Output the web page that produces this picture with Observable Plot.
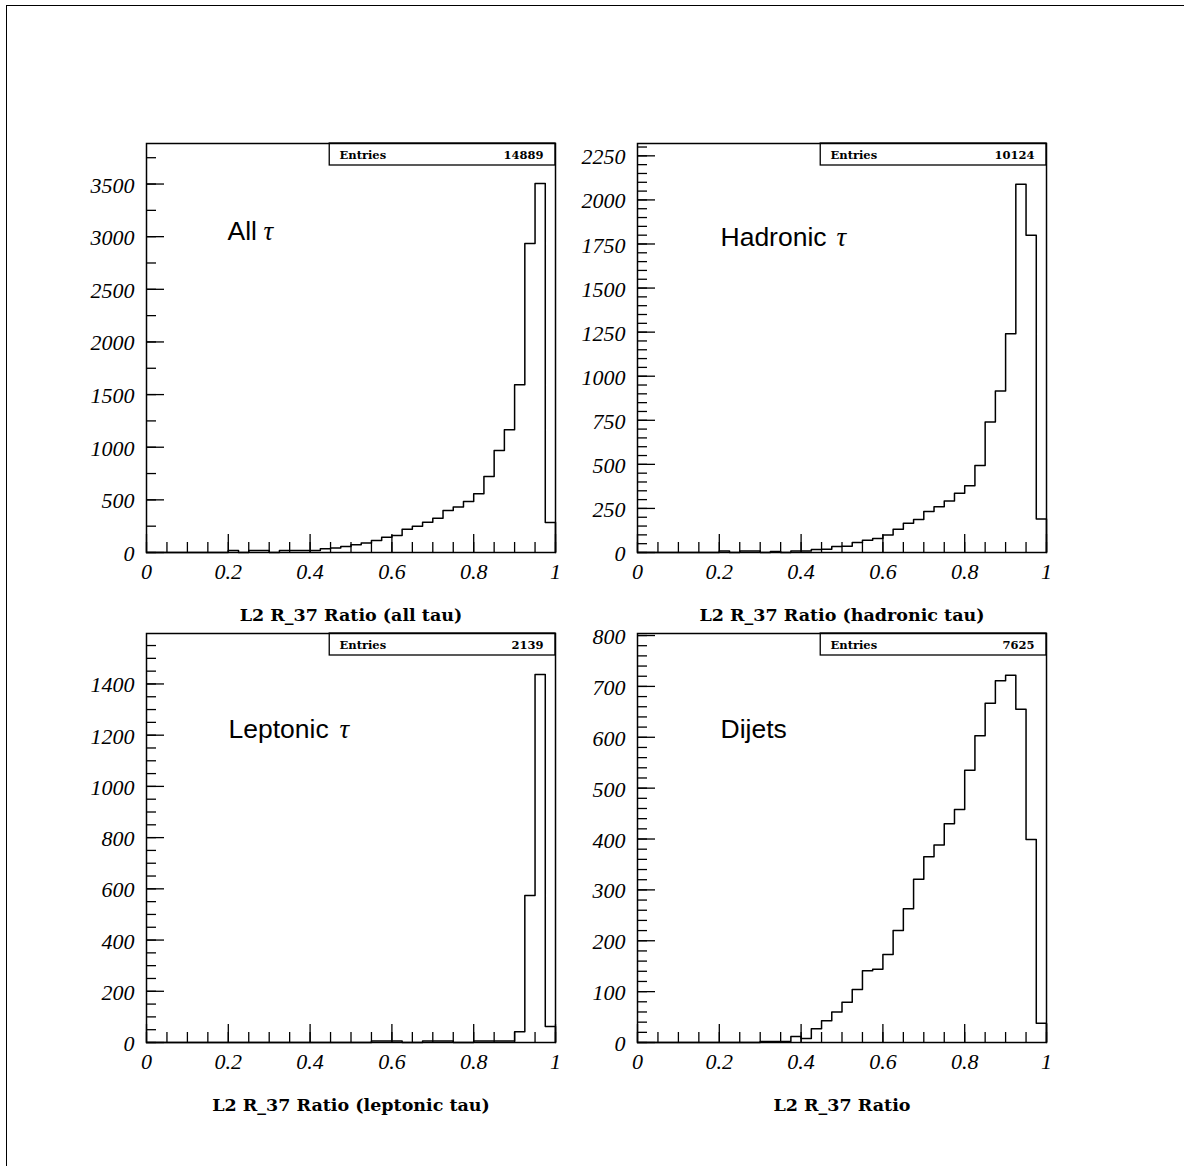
<!DOCTYPE html>
<html>
<head>
<meta charset="utf-8">
<script src="https://cdn.jsdelivr.net/npm/d3@7"></script>
<script src="https://cdn.jsdelivr.net/npm/@observablehq/plot@0.6"></script>
<style>
  html, body { margin: 0; padding: 0; background: #fff; }
  #page { position: relative; width: 1184px; height: 1166px; overflow: hidden; background: #fff; }
  #border { position: absolute; left: 6px; top: 5px; width: 1400px; height: 1400px;
            border-left: 1.5px solid #000; border-top: 1.5px solid #000; }
  .panel { position: absolute; }
  .panel svg { overflow: visible; }
</style>
</head>
<body>
<div id="page"><div id="border"></div></div>
<script>
// ---- Data (40 bins over [0,1]) ----
const allTau = [
  0, 0, 0, 0, 0, 0, 0, 0, 18, 0,
  18, 18, 0, 18, 18, 18, 18, 36, 43, 57,
  73, 90, 113, 145, 162, 220, 250, 287, 326, 398,
  433, 485, 557, 721, 968, 1165, 1594, 2934, 3505, 286
];
const hadronicTau = [
  0, 0, 0, 0, 0, 0, 0, 0, 8, 0,
  8, 8, 0, 6, 0, 8, 8, 17, 18, 34,
  35, 57, 69, 80, 99, 132, 166, 187, 232, 260,
  292, 336, 378, 494, 740, 916, 1241, 2089, 1800, 190
];
const leptonicTau = [
  0, 0, 0, 0, 0, 0, 0, 0, 0, 0,
  0, 0, 0, 0, 0, 0, 0, 0, 0, 0,
  0, 0, 6, 6, 6, 0, 0, 6, 6, 6,
  0, 0, 6, 6, 6, 6, 42, 574, 1437, 62
];
const dijets = [
  0, 0, 0, 0, 0, 0, 0, 0, 0, 0,
  0, 0, 2, 2, 2, 12, 8, 27, 43, 60,
  79, 104, 141, 144, 173, 220, 263, 321, 365, 388,
  430, 458, 535, 603, 667, 711, 722, 655, 399, 38
];

const entries = [14889, 10124, 2139, 7625];
const panelNames = ["All", "Hadronic", "Leptonic", "Dijets"];
const tauSymbol = "\u03C4";
const axisTitles = [
  "L2 R_37 Ratio (all tau)",
  "L2 R_37 Ratio (hadronic tau)",
  "L2 R_37 Ratio (leptonic tau)",
  "L2 R_37 Ratio"
];
const xTickValues = [0, 0.2, 0.4, 0.6, 0.8, 1];
const xTickLabels = ["0", "0.2", "0.4", "0.6", "0.8", "1"];
const yMajorAll = [0, 500, 1000, 1500, 2000, 2500, 3000, 3500];
const yMajorHad = [0, 250, 500, 750, 1000, 1250, 1500, 1750, 2000, 2250];
const yMajorLep = [0, 200, 400, 600, 800, 1000, 1200, 1400];
const yMajorDij = [0, 100, 200, 300, 400, 500, 600, 700, 800];

// ---- Layout ----
const NBINS = 40;
const FW = 409, FH = 409;
const ML = 110, MR = 40, MT = 12, MB = 85;

const panels = [
  {values: allTau, ymax: 3885, major: yMajorAll, minorStep: 250, minorMax: 3750,
   left: 146, top: 143, name: panelNames[0], tau: true, labDx: 81, tauDx: 117, labDy: 96,
   title: axisTitles[0], n: entries[0]},
  {values: hadronicTau, ymax: 2320, major: yMajorHad, minorStep: 50, minorMax: 2300,
   left: 637, top: 143, name: panelNames[1], tau: true, labDx: 83, tauDx: 199, labDy: 102,
   title: axisTitles[1], n: entries[1]},
  {values: leptonicTau, ymax: 1597, major: yMajorLep, minorStep: 50, minorMax: 1550,
   left: 146, top: 633, name: panelNames[2], tau: true, labDx: 82, tauDx: 193, labDy: 104,
   title: axisTitles[2], n: entries[2]},
  {values: dijets, ymax: 804, major: yMajorDij, minorStep: 20, minorMax: 800,
   left: 637, top: 633, name: panelNames[3], tau: false, labDx: 83, tauDx: 0, labDy: 104,
   title: axisTitles[3], n: entries[3]}
];

const page = document.getElementById("page");
const tickFont = "Liberation Serif, Times New Roman, serif";
const titleFont = "DejaVu Serif, serif";
const labelFont = "Liberation Sans, Arial, sans-serif";

for (const p of panels) {
  const edges = d3.range(NBINS).map(i => i / NBINS);
  const pts = [{x: 0, y: 0}]
    .concat(p.values.map((v, i) => ({x: edges[i], y: v})))
    .concat([{x: 1, y: 0}]);
  const minor = d3.range(0, p.minorMax + 1e-9, p.minorStep);
  const xMinor = d3.range(0, 1.0001, 0.05);

  const chart = Plot.plot({
    width: ML + FW + MR,
    height: MT + FH + MB,
    marginLeft: ML, marginRight: MR, marginTop: MT, marginBottom: MB,
    x: {domain: [0, 1], axis: null},
    y: {domain: [0, p.ymax], axis: null},
    style: {background: "transparent", overflow: "visible"},
    marks: [
      // stats box
      Plot.rect([0], {x1: 0.448, x2: 1, y1: p.ymax * (1 - 22 / FH), y2: p.ymax,
                      fill: "white", stroke: "black", strokeWidth: 1.3}),
      Plot.text(["Entries"], {frameAnchor: "top-left", dx: 193, dy: 15, lineAnchor: "bottom",
                textAnchor: "start", text: d => d, fontFamily: titleFont, fontWeight: "bold",
                fontSize: 11.5, fill: "black"}),
      Plot.text([p.n], {frameAnchor: "top-right", dx: -12, dy: 15, lineAnchor: "bottom",
                textAnchor: "end", text: d => String(d), fontFamily: titleFont, fontWeight: "bold",
                fontSize: 11.5, fill: "black"}),
      // ticks (inside the frame)
      Plot.ruleX(xMinor, {x: d => d, insetTop: FH - 10, stroke: "black", strokeWidth: 1.3}),
      Plot.ruleX(xTickValues, {x: d => d, insetTop: FH - 18, stroke: "black", strokeWidth: 1.3}),
      Plot.ruleY(minor, {y: d => d, insetRight: FW - 10, stroke: "black", strokeWidth: 1.3}),
      Plot.ruleY(p.major, {y: d => d, insetRight: FW - 18, stroke: "black", strokeWidth: 1.3}),
      // histogram outline
      Plot.line(pts, {x: "x", y: "y", curve: "step-after", stroke: "black", strokeWidth: 1.5}),
      Plot.frame({stroke: "black", strokeWidth: 1.5}),
      // tick labels
      Plot.text(xTickValues, {x: d => d, text: (d, i) => xTickLabels[i], frameAnchor: "bottom",
                dy: 26, lineAnchor: "bottom", fontFamily: tickFont, fontStyle: "italic",
                fontSize: 22, fill: "black"}),
      Plot.text(p.major, {y: d => d, text: d => String(d), frameAnchor: "left", dx: -12, dy: 1.5,
                textAnchor: "end", fontFamily: tickFont, fontStyle: "italic",
                fontSize: 22, fill: "black"}),
      // axis title
      Plot.text([p.title], {frameAnchor: "bottom", dy: 68, lineAnchor: "bottom", text: d => d,
                fontFamily: titleFont, fontWeight: "bold", fontSize: 17.5, fill: "black"}),
      // panel label
      Plot.text([p.name], {frameAnchor: "top-left", dx: p.labDx, dy: p.labDy, textAnchor: "start",
                lineAnchor: "bottom", text: d => d, fontFamily: labelFont, fontSize: 26.5, fill: "black"}),
      Plot.text(p.tau ? [tauSymbol] : [], {frameAnchor: "top-left", dx: p.tauDx, dy: p.labDy,
                textAnchor: "start", lineAnchor: "bottom", text: d => d, fontFamily: tickFont,
                fontStyle: "italic", fontSize: 27, fill: "black"})
    ]
  });
  const div = document.createElement("div");
  div.className = "panel";
  div.style.left = (p.left - ML) + "px";
  div.style.top = (p.top - MT) + "px";
  div.appendChild(chart);
  page.appendChild(div);
}
</script>
</body>
</html>
